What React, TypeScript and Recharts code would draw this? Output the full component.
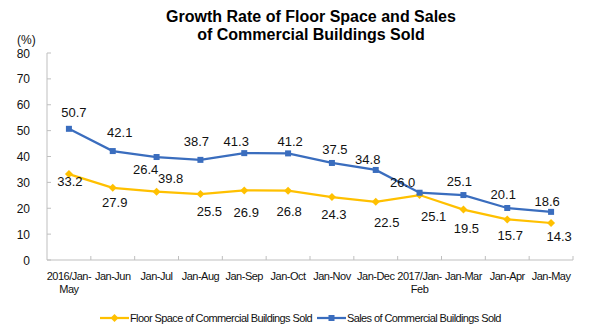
import React from 'react';
import { LineChart, Line, XAxis, YAxis } from 'recharts';

const months = [
  '2016/Jan-\nMay',
  'Jan-Jun',
  'Jan-Jul',
  'Jan-Aug',
  'Jan-Sep',
  'Jan-Oct',
  'Jan-Nov',
  'Jan-Dec',
  '2017/Jan-\nFeb',
  'Jan-Mar',
  'Jan-Apr',
  'Jan-May',
];
const floorSpace = [33.2, 27.9, 26.4, 25.5, 26.9, 26.8, 24.3, 22.5, 25.1, 19.5, 15.7, 14.3];
const sales = [50.7, 42.1, 39.8, 38.7, 41.3, 41.2, 37.5, 34.8, 26.0, 25.1, 20.1, 18.6];
const yTicks = [0, 10, 20, 30, 40, 50, 60, 70, 80];

// label nudges in px relative to each point (center of the text)
const floorLabelShift = [
  [1, 7], [2, 15], [-11, -22], [9, 17], [2, 22], [1, 21],
  [2, 17], [11, 21], [14, 21], [3, 19], [3, 16], [8, 14],
];
const salesLabelShift = [
  [5, -16], [7, -19], [14, 21], [-4, -18], [-8, -12], [2, -12],
  [3, -13], [-8, -10], [-17, -10], [-4, -14], [-4, -13], [-4, -10],
];

const FLOOR_COLOR = '#FFC000';
const SALES_COLOR = '#3A6DBE';
const AXIS_COLOR = '#BFBFBF';
const FONT = 'Arial, "Liberation Sans", sans-serif';

const W = 598;
const H = 334;
const MARGIN = { top: 53, right: 25, bottom: 0, left: 0 };
const Y_AXIS_W = 47;
const X_AXIS_H = 74;
const BAND = (W - MARGIN.right - Y_AXIS_W) / months.length;

const data = months.map((m, i) => ({ month: m, floor: floorSpace[i], sales: sales[i] }));

function makeLabel(shift: number[][]) {
  return (p: any) => {
    const [dx, dy] = shift[p.index] || [0, -12];
    return (
      <text
        x={p.x + dx}
        y={p.y + dy + 4.5}
        textAnchor="middle"
        fontSize={13}
        fontFamily={FONT}
        fill="#111"
      >
        {Number(p.value).toFixed(1)}
      </text>
    );
  };
}

function XTick({ x, y, payload }: any) {
  const lines = String(payload.value).split('\n');
  return (
    <g>
      <line x1={x + BAND / 2} x2={x + BAND / 2} y1={y} y2={y - 4} stroke={AXIS_COLOR} />
      <text
        x={x}
        y={y + 19.5}
        textAnchor="middle"
        fontSize={11}
        letterSpacing={-0.5}
        fontFamily={FONT}
        fill="#111"
      >
        {lines.map((l, i) => (
          <tspan key={i} x={x} dy={i === 0 ? 0 : 13}>
            {l}
          </tspan>
        ))}
      </text>
    </g>
  );
}

function YTick({ x, y, payload }: any) {
  return (
    <g>
      <line x1={x + 17} x2={x + 21} y1={y} y2={y} stroke={AXIS_COLOR} />
      <text x={x} y={y + 4.5} textAnchor="end" fontSize={12} fontFamily={FONT} fill="#111">
        {payload.value}
      </text>
    </g>
  );
}

const SquareDot = ({ cx, cy }: any) => (
  <rect x={cx - 3} y={cy - 3} width={6} height={6} fill={SALES_COLOR} />
);

const DiamondDot = ({ cx, cy }: any) => (
  <polygon
    points={`${cx},${cy - 4} ${cx + 4},${cy} ${cx},${cy + 4} ${cx - 4},${cy}`}
    fill={FLOOR_COLOR}
  />
);

function LegendItem({ left, color, label, square }: any) {
  return (
    <div style={{ position: 'absolute', left, top: 312, display: 'flex', alignItems: 'center' }}>
      <svg width={29} height={12}>
        <line x1={0} x2={29} y1={6} y2={6} stroke={color} strokeWidth={2.25} />
        {square ? (
          <rect x={11.5} y={3} width={6} height={6} fill={color} />
        ) : (
          <polygon points="14.5,2 18.5,6 14.5,10 10.5,6" fill={color} />
        )}
      </svg>
      <span style={{ fontSize: 11, letterSpacing: -0.6, fontFamily: FONT, color: '#111', marginLeft: 1 }}>
        {label}
      </span>
    </div>
  );
}

export default function App() {
  return (
    <div style={{ position: 'absolute', left: 0, top: 0, width: W, height: H, background: '#fff' }}>
      <div
        style={{
          position: 'absolute',
          left: 111,
          top: 8,
          width: 400,
          textAlign: 'center',
          fontFamily: FONT,
          fontWeight: 'bold',
          fontSize: 16,
          lineHeight: '18px',
          color: '#000',
        }}
      >
        Growth Rate of Floor Space and Sales
        <br />
        of Commercial Buildings Sold
      </div>
      <div style={{ position: 'absolute', left: 17, top: 33, fontSize: 12, fontFamily: FONT, color: '#111' }}>
        (%)
      </div>
      <LineChart width={W} height={H} data={data} margin={MARGIN}>
        <XAxis
          dataKey="month"
          scale="band"
          interval={0}
          height={X_AXIS_H}
          tickSize={0}
          tickMargin={0}
          tickLine={false}
          axisLine={{ stroke: AXIS_COLOR }}
          tick={<XTick />}
        />
        <YAxis
          width={Y_AXIS_W}
          domain={[0, 80]}
          ticks={yTicks}
          tickSize={0}
          tickMargin={17}
          tickLine={false}
          axisLine={{ stroke: AXIS_COLOR }}
          tick={<YTick />}
        />
        <Line
          dataKey="floor"
          stroke={FLOOR_COLOR}
          strokeWidth={2.25}
          dot={<DiamondDot />}
          activeDot={false}
          label={makeLabel(floorLabelShift)}
          isAnimationActive={false}
        />
        <Line
          dataKey="sales"
          stroke={SALES_COLOR}
          strokeWidth={2.25}
          dot={<SquareDot />}
          activeDot={false}
          label={makeLabel(salesLabelShift)}
          isAnimationActive={false}
        />
      </LineChart>
      <LegendItem left={100} color={FLOOR_COLOR} label="Floor Space of Commercial Buildings Sold" />
      <LegendItem left={317} color={SALES_COLOR} label="Sales of Commercial Buildings Sold" square />
    </div>
  );
}
